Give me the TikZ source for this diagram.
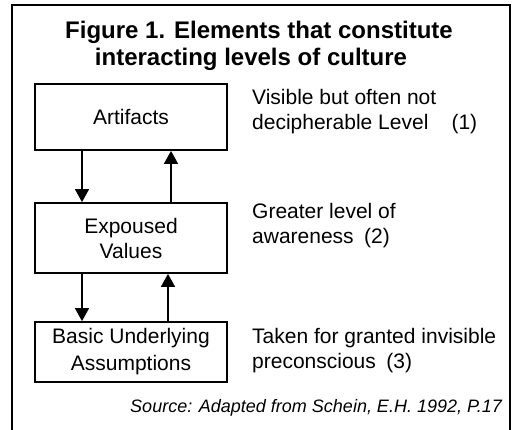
\documentclass[tikz,border=0pt]{standalone}
\usepackage{fontspec}
\setmainfont{Liberation Sans}
\usetikzlibrary{arrows.meta}
\begin{document}
\begin{tikzpicture}[x=1pt,y=-1pt,
  lvl/.style={draw,line width=1.8pt,minimum width=192pt,align=center,inner sep=0pt},
  body/.style={font=\fontsize{21}{25}\selectfont},
  desc/.style={anchor=west,align=left,inner sep=0pt,body},
  ttl/.style={align=center,font=\bfseries\fontsize{24}{26}\selectfont,inner sep=0pt},
  flow/.style={line width=1.6pt,-{Triangle[width=14pt,length=13pt]}}]
\useasboundingbox (0,0) rectangle (515,430);
\fill[white] (0,0) rectangle (515,430);
% frame (open at bottom)
\draw[line width=2.4pt] (12,432) -- (12,5) -- (510,5) -- (510,432);
% title
\node[ttl] (t1) at (259,32) {Figure 1. Elements that constitute};
\node[ttl] (t2) at (251,59) {interacting levels of culture};
% boxes
\node[lvl,minimum height=66pt,body] (art) at (131,117) {Artifacts};
\node[lvl,minimum height=70pt,body] (val) at (131,238) {Expoused\\Values};
\node[lvl,minimum height=60pt,body] (bas) at (131,352) {Basic Underlying\\[2pt]Assumptions};
% arrows
\draw[flow] (art.south -| 82,0) -- (val.north -| 82,0);
\draw[flow] (val.north -| 171,0) -- (art.south -| 171,0);
\draw[flow] (val.south -| 82,0) -- (bas.north -| 82,0);
\draw[flow] (bas.north -| 168,0) -- (val.south -| 168,0);
% descriptions
\node[desc] (d1) at (252,112) {Visible but often not\\decipherable Level\hspace{1.1em}(1)};
\node[desc] (d2) at (252,226) {Greater level of\\awareness\hspace{0.5em}(2)};
\node[desc] (d3) at (252,351) {Taken for granted invisible\\preconscious\hspace{0.5em}(3)};
% source
\node[anchor=east,inner sep=0pt,font=\itshape\fontsize{18}{18}\selectfont] (src) at (502,408) {Source: Adapted from Schein, E.H. 1992, P.17};
\end{tikzpicture}
\end{document}
